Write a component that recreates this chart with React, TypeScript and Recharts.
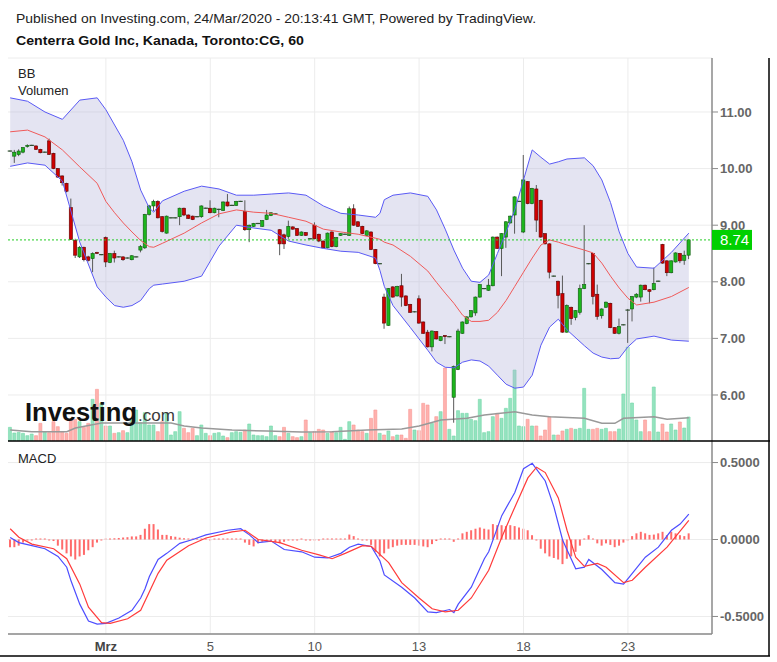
import React from 'react';
import { ComposedChart, Bar, Line, Area, XAxis, YAxis, CartesianGrid, ReferenceLine, Cell } from 'recharts';

const FONT = '"Liberation Sans", Arial, sans-serif';

// hourly bars, 26 Feb - 24 Mar 2020 (8 bars a day)
const OPEN = [
  10.31, 10.22, 10.25, 10.29, 10.39, 10.41, 10.40, 10.34, 10.29, 10.49,
  10.27, 10.00, 9.87, 9.74, 9.31, 8.73, 8.44, 8.61, 8.44, 8.41,
  8.52, 8.48, 8.78, 8.34, 8.50, 8.44, 8.44, 8.42, 8.39, 8.44,
  8.56, 8.60, 9.19, 9.34, 9.42, 9.15, 8.86, 9.13, 9.13, 9.15,
  9.30, 9.18, 9.16, 9.15, 9.15, 9.30, 9.30, 9.22, 9.28, 9.26,
  9.41, 9.35, 9.35, 9.42, 9.24, 8.92, 8.98, 9.03, 8.98, 9.10,
  9.17, 9.20, 8.92, 8.83, 8.80, 8.97, 8.94, 8.82, 8.87, 8.76,
  9.00, 8.84, 8.72, 8.60, 8.88, 8.62, 8.82, 8.84, 8.82, 9.29,
  9.06, 8.98, 8.82, 8.88, 8.57, 8.32, 7.73, 7.23, 7.91, 7.75,
  7.93, 7.75, 7.60, 7.47, 7.70, 7.29, 7.11, 6.85, 7.12, 6.96,
  7.05, 7.03, 5.96, 6.45, 7.09, 7.26, 7.38, 7.45, 7.73, 7.88,
  7.85, 7.93, 8.79, 8.59, 8.79, 9.04, 9.18, 9.42, 8.88, 9.77,
  9.38, 9.64, 9.44, 8.85, 8.67, 8.10, 8.01, 7.79, 7.11, 7.55,
  7.37, 7.46, 7.88, 8.32, 8.50, 7.78, 7.40, 7.55, 7.62, 7.19,
  7.09, 7.24, 7.50, 7.52, 7.73, 7.73, 7.94, 7.86, 7.86, 8.01,
  8.66, 8.37, 8.16, 8.35, 8.50, 8.38, 8.47,
];
const HIGH = [
  10.32, 10.33, 10.34, 10.38, 10.43, 10.42, 10.41, 10.35, 10.30, 10.53,
  10.28, 10.01, 9.88, 9.75, 9.47, 8.76, 8.63, 8.62, 8.46, 8.52,
  8.53, 8.49, 8.80, 8.51, 8.55, 8.45, 8.45, 8.43, 8.47, 8.45,
  8.65, 9.20, 9.36, 9.45, 9.44, 9.16, 9.17, 9.14, 9.14, 9.31,
  9.31, 9.19, 9.17, 9.16, 9.35, 9.31, 9.44, 9.31, 9.29, 9.42,
  9.55, 9.36, 9.43, 9.43, 9.44, 9.01, 9.04, 9.04, 9.09, 9.27,
  9.23, 9.21, 8.93, 8.85, 9.08, 8.98, 8.95, 8.89, 8.88, 8.77,
  9.05, 8.85, 8.73, 8.87, 8.89, 8.79, 8.86, 8.85, 9.33, 9.37,
  9.07, 8.99, 8.91, 8.89, 8.58, 8.33, 7.79, 7.89, 7.92, 7.93,
  8.14, 7.76, 7.61, 7.48, 7.76, 7.30, 7.15, 7.14, 7.13, 7.04,
  7.06, 7.04, 6.52, 7.17, 7.30, 7.39, 7.50, 7.74, 7.96, 7.89,
  8.05, 8.80, 8.80, 8.86, 9.07, 9.17, 9.51, 9.43, 10.24, 9.78,
  9.66, 9.71, 9.45, 8.86, 8.68, 8.11, 8.02, 8.11, 7.60, 7.56,
  7.50, 7.95, 9.00, 8.33, 8.51, 7.95, 7.53, 7.65, 7.63, 7.20,
  7.35, 7.25, 7.52, 7.75, 7.80, 7.95, 7.95, 7.87, 8.25, 8.02,
  8.67, 8.38, 8.38, 8.52, 8.51, 8.55, 8.75,
];
const LOW = [
  10.30, 10.10, 10.22, 10.27, 10.37, 10.40, 10.33, 10.27, 10.28, 10.24,
  9.99, 9.84, 9.70, 9.58, 8.74, 8.42, 8.42, 8.36, 8.36, 8.17,
  8.49, 8.47, 8.26, 8.33, 8.34, 8.43, 8.37, 8.41, 8.38, 8.43,
  8.52, 8.58, 9.17, 9.25, 9.12, 8.87, 8.85, 9.12, 9.12, 9.00,
  9.16, 9.11, 9.09, 9.14, 9.13, 9.29, 9.21, 9.21, 9.14, 9.25,
  9.33, 9.34, 9.34, 9.41, 8.90, 8.70, 8.97, 9.02, 8.97, 9.09,
  9.16, 9.19, 8.47, 8.58, 8.76, 8.92, 8.81, 8.81, 8.81, 8.75,
  8.75, 8.70, 8.59, 8.59, 8.61, 8.61, 8.81, 8.83, 8.81, 8.99,
  8.97, 8.84, 8.81, 8.56, 8.31, 8.31, 7.17, 7.22, 7.72, 7.74,
  7.56, 7.57, 7.45, 7.46, 7.26, 7.08, 6.84, 6.77, 6.98, 6.95,
  6.90, 7.02, 5.51, 6.44, 7.08, 7.25, 7.37, 7.40, 7.72, 7.87,
  7.84, 7.92, 8.58, 8.10, 8.60, 9.03, 8.85, 9.41, 8.86, 9.37,
  9.37, 8.88, 8.78, 8.66, 8.06, 8.09, 7.53, 7.10, 7.10, 7.24,
  7.32, 7.42, 7.87, 8.31, 7.60, 7.33, 7.35, 7.54, 7.18, 7.08,
  7.07, 7.23, 6.92, 7.30, 7.71, 7.65, 7.85, 7.62, 7.85, 8.00,
  8.32, 8.10, 8.15, 8.34, 8.33, 8.30, 8.40,
];
const CLOSE = [
  10.31, 10.29, 10.31, 10.37, 10.41, 10.41, 10.34, 10.28, 10.29, 10.25,
  10.00, 9.85, 9.75, 9.60, 8.75, 8.47, 8.61, 8.39, 8.38, 8.50,
  8.50, 8.48, 8.35, 8.50, 8.42, 8.44, 8.39, 8.42, 8.46, 8.44,
  8.62, 9.19, 9.34, 9.42, 9.13, 8.89, 9.16, 9.13, 9.13, 9.30,
  9.18, 9.12, 9.10, 9.15, 9.34, 9.30, 9.22, 9.30, 9.28, 9.41,
  9.34, 9.35, 9.42, 9.42, 8.92, 9.00, 9.03, 9.03, 9.08, 9.18,
  9.22, 9.20, 8.67, 8.67, 8.98, 8.93, 8.82, 8.88, 8.82, 8.76,
  8.76, 8.72, 8.60, 8.86, 8.62, 8.78, 8.85, 8.84, 9.29, 9.00,
  8.98, 8.85, 8.90, 8.57, 8.32, 8.32, 7.27, 7.88, 7.73, 7.92,
  7.73, 7.58, 7.46, 7.47, 7.27, 7.09, 6.85, 7.13, 6.99, 7.03,
  7.03, 7.03, 6.50, 7.13, 7.29, 7.38, 7.49, 7.73, 7.95, 7.88,
  7.94, 8.79, 8.59, 8.85, 9.06, 9.16, 9.50, 9.42, 9.80, 9.38,
  9.65, 9.09, 8.79, 8.67, 8.17, 8.10, 7.76, 7.11, 7.58, 7.35,
  7.49, 7.88, 7.95, 8.32, 7.74, 7.39, 7.52, 7.64, 7.19, 7.09,
  7.21, 7.24, 7.50, 7.74, 7.78, 7.94, 7.86, 7.83, 7.97, 8.01,
  8.33, 8.16, 8.37, 8.51, 8.37, 8.47, 8.74,
];
// thousand shares
const VOLUME = [
  41, 24, 26, 23, 16, 21, 16, 53, 28, 25,
  58, 43, 28, 23, 63, 65, 58, 41, 53, 125,
  155, 113, 45, 45, 23, 25, 31, 25, 68, 93,
  55, 85, 48, 48, 28, 58, 83, 18, 28, 88,
  38, 25, 38, 16, 48, 23, 16, 23, 25, 15,
  10, 25, 28, 26, 33, 51, 18, 16, 16, 13,
  45, 16, 13, 41, 23, 13, 10, 13, 63, 25,
  28, 35, 33, 23, 28, 25, 41, 5, 58, 48,
  33, 28, 23, 68, 93, 23, 18, 30, 13, 18,
  18, 8, 95, 33, 31, 113, 108, 53, 73, 88,
  219, 35, 15, 91, 83, 83, 65, 61, 125, 25,
  28, 73, 83, 68, 98, 128, 213, 45, 43, 65,
  45, 45, 15, 33, 73, 18, 18, 30, 35, 38,
  35, 38, 158, 35, 35, 38, 35, 38, 28, 28,
  36, 141, 282, 114, 63, 28, 63, 28, 162, 27,
  51, 27, 51, 33, 57, 39, 72,
];
const VMA_IDX = [0, 5, 13, 15, 21, 37, 40, 44, 51, 59, 67, 74, 82, 90, 94, 99, 105, 109, 116, 120, 124, 132, 136, 139, 141, 148, 151, 156];
const VMA = [33, 28, 28, 39, 54, 54, 45, 39, 33, 30, 27, 28, 33, 36, 45, 63, 68, 78, 88, 78, 73, 68, 53, 53, 68, 73, 65, 70];

// Bollinger bands, read at these bars
const BB_IDX = [0, 4, 8, 12, 16, 20, 22, 24, 26, 28, 30, 32, 33, 35, 40, 44, 48, 52, 56, 60, 64, 68, 72, 76, 80, 84, 85, 86, 88, 92, 96, 98, 100, 102, 104, 106, 108, 110, 112, 114, 116, 118, 120, 122, 124, 126, 128, 132, 134, 136, 138, 140, 142, 144, 148, 152, 156];
const BB_UPPER = [11.25, 11.19, 11.0, 10.87, 11.21, 11.25, 11.04, 10.77, 10.50, 10.12, 9.62, 9.30, 9.23, 9.43, 9.60, 9.69, 9.64, 9.53, 9.53, 9.55, 9.57, 9.53, 9.34, 9.21, 9.18, 9.14, 9.21, 9.45, 9.53, 9.57, 9.51, 9.27, 8.93, 8.56, 8.24, 8.01, 7.99, 8.12, 8.50, 8.88, 9.27, 9.80, 10.33, 10.20, 10.08, 10.12, 10.17, 10.19, 10.05, 9.80, 9.40, 8.88, 8.50, 8.26, 8.24, 8.52, 8.86];
const BB_MID = [10.65, 10.68, 10.56, 10.33, 10.03, 9.74, 9.42, 9.22, 9.04, 8.88, 8.73, 8.62, 8.61, 8.68, 8.86, 9.04, 9.20, 9.27, 9.23, 9.21, 9.14, 9.07, 8.93, 8.88, 8.84, 8.77, 8.75, 8.70, 8.65, 8.45, 8.19, 7.99, 7.80, 7.62, 7.41, 7.30, 7.30, 7.32, 7.46, 7.67, 7.92, 8.17, 8.42, 8.65, 8.74, 8.70, 8.65, 8.56, 8.51, 8.33, 8.10, 7.89, 7.71, 7.59, 7.64, 7.74, 7.90];
const BB_LOWER = [10.04, 10.10, 10.06, 9.78, 8.70, 7.91, 7.73, 7.58, 7.55, 7.58, 7.67, 7.88, 7.94, 7.96, 8.01, 8.10, 8.63, 9.00, 8.95, 8.91, 8.72, 8.65, 8.59, 8.54, 8.52, 8.42, 8.20, 7.92, 7.58, 7.19, 6.79, 6.58, 6.49, 6.48, 6.58, 6.62, 6.60, 6.51, 6.35, 6.19, 6.12, 6.14, 6.35, 6.88, 7.20, 7.34, 7.15, 6.87, 6.74, 6.67, 6.64, 6.65, 6.85, 6.99, 7.04, 6.97, 6.95];

// MACD (12,26) and signal (9), read at these bars
const MACD_IDX = [0, 2, 5, 8, 11, 13, 14, 16, 18, 20, 22, 25, 28, 30, 31, 32, 34, 36, 39, 42, 45, 50, 53, 55, 57, 60, 63, 67, 70, 73, 76, 78, 80, 83, 85, 86, 90, 93, 96, 98, 101, 102, 103, 106, 109, 110, 113, 116, 118, 120, 123, 125, 127, 130, 132, 133, 136, 139, 141, 143, 146, 149, 152, 154, 156];
const MACD = [0.013, -0.02, -0.04, -0.06, -0.11, -0.18, -0.27, -0.42, -0.53, -0.55, -0.545, -0.51, -0.46, -0.38, -0.32, -0.24, -0.13, -0.09, -0.025, 0.0, 0.03, 0.06, 0.07, 0.03, -0.02, -0.01, -0.065, -0.08, -0.115, -0.12, -0.09, -0.05, -0.03, -0.045, -0.14, -0.23, -0.31, -0.38, -0.47, -0.475, -0.455, -0.475, -0.42, -0.31, -0.125, -0.08, 0.155, 0.305, 0.46, 0.495, 0.38, 0.21, -0.005, -0.19, -0.18, -0.13, -0.195, -0.28, -0.29, -0.22, -0.115, -0.05, 0.06, 0.10, 0.165];
const SIG_IDX = [0, 2, 5, 10, 13, 16, 18, 21, 23, 27, 30, 34, 36, 41, 45, 51, 54, 57, 62, 67, 71, 74, 77, 81, 83, 87, 90, 94, 97, 100, 103, 106, 110, 113, 116, 119, 121, 123, 126, 128, 130, 132, 135, 137, 141, 143, 146, 151, 156];
const SIGNAL = [0.07, 0.015, -0.03, -0.06, -0.125, -0.29, -0.44, -0.54, -0.545, -0.515, -0.46, -0.22, -0.135, -0.04, 0.01, 0.05, 0.06, 0.0, -0.02, -0.07, -0.10, -0.125, -0.09, -0.04, -0.045, -0.15, -0.28, -0.38, -0.45, -0.47, -0.46, -0.38, -0.2, 0.015, 0.21, 0.40, 0.47, 0.435, 0.27, 0.06, -0.115, -0.175, -0.155, -0.18, -0.28, -0.265, -0.18, -0.05, 0.125];
const HIST = [
  -0.05, -0.05, -0.04, -0.02, -0.005, -0.005, 0.003, 0.003, 0.003, -0.005,
  -0.01, -0.04, -0.065, -0.09, -0.11, -0.13, -0.11, -0.10, -0.07, -0.05,
  -0.02, -0.005, 0.003, 0.006, 0.008, 0.01, 0.013, 0.015, 0.02, 0.02,
  0.03, 0.07, 0.10, 0.10, 0.065, 0.03, 0.03, 0.022, 0.018, 0.012,
  0.008, 0.006, 0.004, 0.004, 0.003, 0.002, -0.002, 0.003, 0.004, 0.005,
  0.004, 0.003, 0.004, 0.003, -0.02, -0.035, -0.045, -0.025, -0.015, -0.01,
  -0.008, -0.02, -0.025, -0.015, -0.004, -0.004, -0.003, 0.003, -0.004, -0.006,
  -0.005, -0.003, 0.002, 0.003, 0.003, 0.003, 0.004, 0.005, 0.032, 0.022,
  0.004, -0.003, -0.005, -0.035, -0.08, -0.11, -0.09, -0.06, -0.05, -0.04,
  -0.035, -0.035, -0.035, -0.035, -0.04, -0.045, -0.05, -0.03, -0.01, 0.002,
  0.003, 0.005, -0.015, 0.006, 0.04, 0.05, 0.06, 0.07, 0.078, 0.07,
  0.065, 0.10, 0.093, 0.093, 0.087, 0.093, 0.087, 0.078, 0.07, 0.06,
  0.028, -0.005, -0.06, -0.09, -0.11, -0.12, -0.13, -0.16, -0.125, -0.11,
  -0.08, -0.04, 0.002, 0.028, 0.006, -0.025, -0.04, -0.025, -0.035, -0.05,
  -0.04, -0.02, -0.003, 0.022, 0.04, 0.05, 0.04, 0.03, 0.032, 0.04,
  0.05, 0.028, 0.05, 0.04, 0.028, 0.022, 0.04,
];

const X_TICKS = [22, 46, 70, 94, 118, 142];
const X_LABELS = ['Mrz', '5', '10', '13', '18', '23'];
const PRICE_TICKS = [6, 7, 8, 9, 10, 11];
const MACD_TICKS = [-0.5, 0, 0.5];

const P_DOMAIN: [number, number] = [5.187, 11.954];
const V_DOMAIN: [number, number] = [0, 1149];
const M_DOMAIN: [number, number] = [-0.614, 0.64];
const PAD = { left: 0, right: 21 };

const UP = '#1db51d';
const UP_EDGE = '#0d5a0d';
const DOWN = '#cf0000';
const DOWN_EDGE = '#5c0000';

const rows: any[] = OPEN.map((o, i) => ({
  i,
  o,
  h: HIGH[i],
  l: LOW[i],
  c: CLOSE[i],
  range: [LOW[i], HIGH[i]],
  vol: VOLUME[i],
  hist: HIST[i],
  band: null,
  bbU: null,
  bbM: null,
  bbL: null,
  vma: null,
  macd: null,
  sig: null,
}));
BB_IDX.forEach((idx, k) => {
  rows[idx].bbU = BB_UPPER[k];
  rows[idx].bbM = BB_MID[k];
  rows[idx].bbL = BB_LOWER[k];
  rows[idx].band = [BB_LOWER[k], BB_UPPER[k]];
});
VMA_IDX.forEach((idx, k) => { rows[idx].vma = VMA[k]; });
MACD_IDX.forEach((idx, k) => { rows[idx].macd = MACD[k]; });
SIG_IDX.forEach((idx, k) => { rows[idx].sig = SIGNAL[k]; });

const LAST = CLOSE[CLOSE.length - 1];

function Candle(props: any) {
  const { x, y, width, height, payload } = props;
  if (!payload || y == null || height == null) return null;
  const { o, h, l, c } = payload;
  const cx = x + width / 2;
  const k = h > l ? height / (h - l) : 0;
  const py = (v: number) => y + (h - v) * k;
  const up = c >= o;
  const top = py(Math.max(o, c));
  const bot = py(Math.min(o, c));
  const flat = Math.abs(o - c) < 0.005;
  return (
    <g>
      <line x1={cx} x2={cx} y1={y} y2={y + height} stroke="#595959" strokeWidth={1} />
      {flat ? (
        <line x1={cx - 2.2} x2={cx + 2.2} y1={top} y2={top} stroke="#2f4f2f" strokeWidth={1.2} />
      ) : (
        <rect
          x={cx - 1.6}
          y={top}
          width={3.2}
          height={Math.max(1, bot - top)}
          fill={up ? UP : DOWN}
          stroke={up ? UP_EDGE : DOWN_EDGE}
          strokeWidth={0.6}
        />
      )}
    </g>
  );
}

function LastLabel(props: any) {
  const vb = props.viewBox || {};
  const x = (vb.x || 0) + (vb.width || 0);
  const y = vb.y || 0;
  return (
    <g>
      <rect x={x} y={y - 10} width={40} height={20} fill="#00d000" />
      <text x={x + 8} y={y + 5.5} fill="#fff" fontSize={15} fontFamily={FONT}>
        {LAST.toFixed(2)}
      </text>
    </g>
  );
}

function XTick(props: any) {
  const { x, y, payload } = props;
  const k = X_TICKS.indexOf(payload.value);
  if (k < 0) return <g />;
  return (
    <text
      x={x}
      y={y}
      dy="0.71em"
      textAnchor="middle"
      fontSize={13}
      fontFamily={FONT}
      fill={k === 0 ? '#444' : '#555'}
      fontWeight={k === 0 ? 'bold' : 'normal'}
    >
      {X_LABELS[k]}
    </text>
  );
}

const axisLine = { stroke: '#8a8a8a', strokeWidth: 1.5 };
const tickStyle = { fill: '#666', fontSize: 13, fontFamily: FONT, fontWeight: 'bold' };

export default function App() {
  return (
    <div style={{ position: 'absolute', left: 0, top: 0, width: 777, height: 662, background: '#fff', overflow: 'hidden' }}>
      {/* grid, price axis and volume */}
      <div style={{ position: 'absolute', left: 0, top: 0 }}>
        <ComposedChart width={777} height={441} data={rows} margin={{ top: 58, right: 8, bottom: 0, left: 8 }}>
          <CartesianGrid yAxisId="p" vertical={false} stroke="#ececec" />
          <XAxis dataKey="i" type="category" hide padding={PAD} />
          <YAxis
            yAxisId="p"
            orientation="right"
            domain={P_DOMAIN}
            allowDataOverflow
            ticks={PRICE_TICKS}
            tickFormatter={(v: number) => v.toFixed(2)}
            width={57}
            axisLine={axisLine}
            tickLine={{ stroke: '#8a8a8a' }}
            tick={tickStyle}
          />
          <YAxis yAxisId="v" hide domain={V_DOMAIN} allowDataOverflow />
          {X_TICKS.map((t) => (
            <ReferenceLine key={t} yAxisId="p" x={t} position="middle" stroke="#ececec" />
          ))}
          <Bar yAxisId="v" dataKey="vol" isAnimationActive={false}>
            {rows.map((r) => (
              <Cell
                key={r.i}
                fill={r.c >= r.o ? '#94e3bf' : '#ffb1ae'}
                stroke={r.c >= r.o ? '#74d6a8' : '#f79893'}
                strokeWidth={0.6}
              />
            ))}
          </Bar>
          <Line yAxisId="v" dataKey="vma" type="linear" stroke="#999" strokeWidth={1.5} dot={false} connectNulls isAnimationActive={false} />
        </ComposedChart>
      </div>

      {/* Bollinger bands and candles */}
      <div style={{ position: 'absolute', left: 0, top: 0 }}>
        <ComposedChart width={777} height={441} data={rows} margin={{ top: 58, right: 65, bottom: 0, left: 8 }}>
          <XAxis dataKey="i" type="category" hide padding={PAD} />
          <YAxis yAxisId="p" hide domain={P_DOMAIN} allowDataOverflow />
          <Area
            yAxisId="p"
            dataKey="band"
            type="linear"
            connectNulls
            stroke="none"
            fill="#b4b4dc"
            fillOpacity={0.36}
            isAnimationActive={false}
          />
          <Line yAxisId="p" dataKey="bbU" type="linear" stroke="#5a5af5" strokeWidth={1} dot={false} connectNulls isAnimationActive={false} />
          <Line yAxisId="p" dataKey="bbL" type="linear" stroke="#5a5af5" strokeWidth={1} dot={false} connectNulls isAnimationActive={false} />
          <Line yAxisId="p" dataKey="bbM" type="linear" stroke="#f05a5a" strokeWidth={1} dot={false} connectNulls isAnimationActive={false} />
          <ReferenceLine yAxisId="p" y={LAST} stroke="#22cc22" strokeDasharray="2 2" label={<LastLabel />} />
          <Bar yAxisId="p" dataKey="range" isAnimationActive={false} shape={(p: any) => <Candle {...p} />} />
        </ComposedChart>
      </div>

      {/* MACD */}
      <div style={{ position: 'absolute', left: 0, top: 441 }}>
        <ComposedChart width={777} height={221} data={rows} margin={{ top: 0, right: 8, bottom: 0, left: 8 }}>
          <CartesianGrid vertical={false} stroke="#ececec" />
          <XAxis
            dataKey="i"
            type="category"
            interval={0}
            tickLine={false}
            axisLine={axisLine}
            tick={<XTick />}
            height={28}
            padding={PAD}
          />
          <YAxis
            orientation="right"
            domain={M_DOMAIN}
            allowDataOverflow
            ticks={MACD_TICKS}
            tickFormatter={(v: number) => v.toFixed(4)}
            width={57}
            axisLine={axisLine}
            tickLine={{ stroke: '#8a8a8a' }}
            tick={tickStyle}
          />
          {X_TICKS.map((t) => (
            <ReferenceLine key={t} x={t} position="middle" stroke="#ececec" />
          ))}
          <Bar dataKey="hist" barSize={2} fill="#ff6b6b" minPointSize={1} isAnimationActive={false} />
          <Line dataKey="macd" type="linear" stroke="#4d4dff" strokeWidth={1.2} dot={false} connectNulls isAnimationActive={false} />
          <Line dataKey="sig" type="linear" stroke="#ff3b3b" strokeWidth={1.2} dot={false} connectNulls isAnimationActive={false} />
        </ComposedChart>
      </div>

      {/* titles, panel labels, frame, watermark */}
      <svg width={777} height={662} style={{ position: 'absolute', left: 0, top: 0, pointerEvents: 'none' }}>
        <text x={16} y={22.5} fontSize={13} fontFamily={FONT} fill="#222" textLength={520} lengthAdjust="spacingAndGlyphs">
          Published on Investing.com, 24/Mar/2020 - 20:13:41 GMT, Powered by TradingView.
        </text>
        <text x={16} y={45} fontSize={13} fontWeight="bold" fontFamily={FONT} fill="#111" textLength={288} lengthAdjust="spacingAndGlyphs">
          Centerra Gold Inc, Kanada, Toronto:CG, 60
        </text>
        <text x={18} y={78} fontSize={13} fontFamily={FONT} fill="#222">BB</text>
        <text x={18} y={95} fontSize={13} fontFamily={FONT} fill="#222">Volumen</text>
        <text x={18} y={463} fontSize={13} fontFamily={FONT} fill="#222">MACD</text>
        <text x={25} y={421} fontSize={26} fontWeight="bold" fontFamily={FONT} fill="#111" textLength={112} lengthAdjust="spacingAndGlyphs">
          Investing
        </text>
        <text x={138} y={421} fontSize={17} fontFamily={FONT} fill="#3a3a3a">.com</text>
        <line x1={8} x2={770} y1={441} y2={441} stroke="#000" strokeWidth={1.5} />
        <line x1={769} x2={769} y1={58} y2={656} stroke="#000" strokeWidth={1.5} />
        <line x1={0} x2={770} y1={656} y2={656} stroke="#000" strokeWidth={1.5} />
      </svg>
    </div>
  );
}
